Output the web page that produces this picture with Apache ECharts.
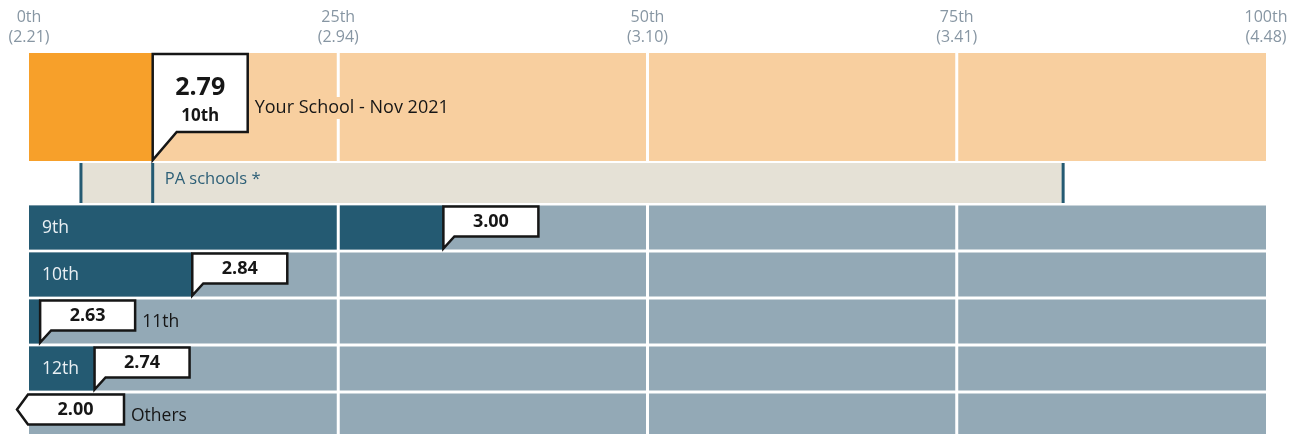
<!DOCTYPE html>
<html>
<head>
<meta charset="utf-8">
<script src="https://cdn.jsdelivr.net/npm/echarts@6/dist/echarts.min.js"></script>
<style>
html,body{margin:0;padding:0;background:#fff;}
#chart{width:1301px;height:434px;}
</style>
</head>
<body>
<div id="chart"></div>
<script>
// ---- data ----
const tickPercentiles = [0, 25, 50, 75, 100];
const tickScores = ['2.21', '2.94', '3.10', '3.41', '4.48'];
const schoolLabel = 'Your School - Nov 2021';
const schoolScore = '2.79';
const schoolRank = '10th';
const schoolPercentile = 10;
const paLabel = 'PA schools *';
const paRange = [4.2, 83.6];
const grades = ['9th', '10th', '11th', '12th', 'Others'];
const gradeScores = ['3.00', '2.84', '2.63', '2.74', '2.00'];
const gradePercentiles = [33.5, 13.2, 0.9, 5.3, 0];

// ---- styles ----
const FONT = '"Open Sans", "Noto Sans", sans-serif';
const C = {
  orangeDark: '#f7a02a', orangeLight: '#f8cf9f',
  paBg: '#e5e1d6', teal: '#245a72', tealLight: '#93a9b6',
  axis: '#8796a3', ink: '#161616'
};
const minScore = parseFloat(tickScores[0]);

const chart = echarts.init(document.getElementById('chart'), null, {renderer: 'canvas'});

function gridLineSeries(gi) {
  return {
    type: 'custom', xAxisIndex: gi, yAxisIndex: gi, z: 3, silent: true,
    data: tickPercentiles.slice(1, -1).map(p => [p, 0]),
    encode: {x: 0, y: 1},
    renderItem: (params, api) => {
      const cs = params.coordSys;
      const x = api.coord([api.value(0), 0])[0];
      return {type: 'line', shape: {x1: x, y1: cs.y, x2: x, y2: cs.y + cs.height},
        style: {stroke: '#ffffff', lineWidth: 3}};
    }
  };
}

const option = {
  animation: false,
  textStyle: {fontFamily: FONT},
  grid: [
    {left: 29, right: 35, top: 53, height: 108, outerBoundsMode: 'none'},
    {left: 29, right: 35, top: 163, height: 40, outerBoundsMode: 'none'},
    {left: 29, right: 35, top: 204, height: 235, outerBoundsMode: 'none'}
  ],
  xAxis: [0, 1, 2].map(i => ({
    gridIndex: i, type: 'value', min: 0, max: 100, interval: 25,
    position: 'top', show: i === 0,
    axisLine: {show: false}, axisTick: {show: false}, splitLine: {show: false},
    axisLabel: {
      color: C.axis, fontSize: 16, lineHeight: 20, fontFamily: FONT, margin: 6,
      formatter: v => {
        const k = tickPercentiles.indexOf(v);
        return k < 0 ? '' : v + 'th\n(' + tickScores[k] + ')';
      }
    }
  })),
  yAxis: [
    {gridIndex: 0, type: 'category', data: ['school'], show: false},
    {gridIndex: 1, type: 'category', data: ['pa'], show: false},
    {gridIndex: 2, type: 'category', data: grades, inverse: true, show: false}
  ],
  series: [
    {type: 'bar', xAxisIndex: 0, yAxisIndex: 0, data: [100], barWidth: 108, barGap: '-100%',
      itemStyle: {color: C.orangeLight}, silent: true, z: 1},
    {type: 'bar', xAxisIndex: 0, yAxisIndex: 0, data: [schoolPercentile], barWidth: 108, barGap: '-100%',
      itemStyle: {color: C.orangeDark}, silent: true, z: 2},
    {type: 'bar', xAxisIndex: 2, yAxisIndex: 2, data: grades.map(() => 100), barWidth: 44, barGap: '-100%',
      itemStyle: {color: C.tealLight}, silent: true, z: 1},
    {type: 'bar', xAxisIndex: 2, yAxisIndex: 2, data: gradePercentiles, barWidth: 44, barGap: '-100%',
      itemStyle: {color: C.teal}, silent: true, z: 2},
    gridLineSeries(0),
    gridLineSeries(2),
    // PA schools range row
    {
      type: 'custom', xAxisIndex: 1, yAxisIndex: 1, z: 3, silent: true,
      data: [[paRange[0], paRange[1], schoolPercentile, 0]],
      encode: {x: [0, 1, 2], y: 3},
      renderItem: (params, api) => {
        const cs = params.coordSys;
        const xl = api.coord([api.value(0), 0])[0];
        const xh = api.coord([api.value(1), 0])[0];
        const xs = api.coord([api.value(2), 0])[0];
        const y1 = cs.y, y2 = cs.y + cs.height;
        const vline = x => ({type: 'rect', shape: {x: x - 1.5, y: y1, width: 3, height: y2 - y1},
          style: {fill: C.teal}});
        return {type: 'group', children: [
          {type: 'rect', shape: {x: xl, y: y1, width: xh - xl, height: y2 - y1}, style: {fill: C.paBg}},
          vline(xl), vline(xh), vline(xs),
          {type: 'text', x: xs + 12, y: y1 + 16,
            style: {text: paLabel, fill: '#2d5f77', font: '16.5px ' + FONT, verticalAlign: 'middle'}}
        ]};
      }
    },
    // Your school callout
    {
      type: 'custom', xAxisIndex: 0, yAxisIndex: 0, z: 5, silent: true,
      data: [[schoolPercentile, 0]],
      encode: {x: 0, y: 1},
      renderItem: (params, api) => {
        const cs = params.coordSys;
        const x = api.coord([api.value(0), 0])[0];
        const top = cs.y + 1, bottom = cs.y + cs.height - 1;
        const w = 95, h = 78;
        return {type: 'group', children: [
          {type: 'polygon', shape: {points: [[x, top], [x + w, top], [x + w, top + h], [x + 24, top + h], [x, bottom]]},
            style: {fill: '#ffffff', stroke: C.ink, lineWidth: 2.5, lineJoin: 'miter'}},
          {type: 'text', x: x + w / 2, y: top + 34,
            style: {text: schoolScore, fill: C.ink, font: 'bold 25px ' + FONT, align: 'center', verticalAlign: 'middle'}},
          {type: 'text', x: x + w / 2, y: top + 62,
            style: {text: schoolRank, fill: C.ink, font: 'bold 17px ' + FONT, align: 'center', verticalAlign: 'middle'}},
          {type: 'text', x: x + w + 5, y: top + 54,
            style: {text: schoolLabel, fill: C.ink, font: '18px ' + FONT, verticalAlign: 'middle',
              backgroundColor: C.orangeLight, padding: [2, 2]}}
        ]};
      }
    },
    // grade callouts
    {
      type: 'custom', xAxisIndex: 2, yAxisIndex: 2, z: 5, silent: true,
      data: grades.map((g, i) => [gradePercentiles[i], i]),
      encode: {x: 0, y: 1},
      renderItem: (params, api) => {
        const i = params.dataIndex;
        const cs = params.coordSys;
        const pt = api.coord([api.value(0), api.value(1)]);
        const x = pt[0], yc = pt[1];
        const top = yc - 22, bottom = yc + 22;
        const w = 95, h = 30;
        const score = gradeScores[i];
        const below = parseFloat(score) < minScore;
        const children = [];
        let boxRight, textX;
        if (below) {
          const x0 = cs.x;
          boxRight = x0 + w;
          textX = x0 + w / 2 - 1;
          children.push({type: 'polygon',
            shape: {points: [[x0 - 12, top + 1 + h / 2], [x0 - 1, top + 1], [boxRight, top + 1], [boxRight, top + 1 + h], [x0 - 1, top + 1 + h]]},
            style: {fill: '#ffffff', stroke: C.ink, lineWidth: 2.5, lineJoin: 'miter'}});
        } else {
          boxRight = x + w;
          textX = x + w / 2;
          children.push({type: 'polygon',
            shape: {points: [[x, top + 1], [x + w, top + 1], [x + w, top + 1 + h], [x + 11, top + 1 + h], [x, bottom - 1]]},
            style: {fill: '#ffffff', stroke: C.ink, lineWidth: 2.5, lineJoin: 'miter'}});
        }
        children.push({type: 'text', x: textX, y: top + 1 + h / 2,
          style: {text: score, fill: C.ink, font: 'bold 18px ' + FONT, align: 'center', verticalAlign: 'middle'}});
        const inside = !below && (x - cs.x) > 55;
        children.push({type: 'text', x: inside ? cs.x + 13 : boxRight + 7, y: yc + 1,
          style: {text: grades[i], fill: inside ? '#e9eff3' : C.ink, font: '17.5px ' + FONT, verticalAlign: 'middle'}});
        return {type: 'group', children};
      }
    }
  ]
};
chart.setOption(option);
</script>
</body>
</html>
